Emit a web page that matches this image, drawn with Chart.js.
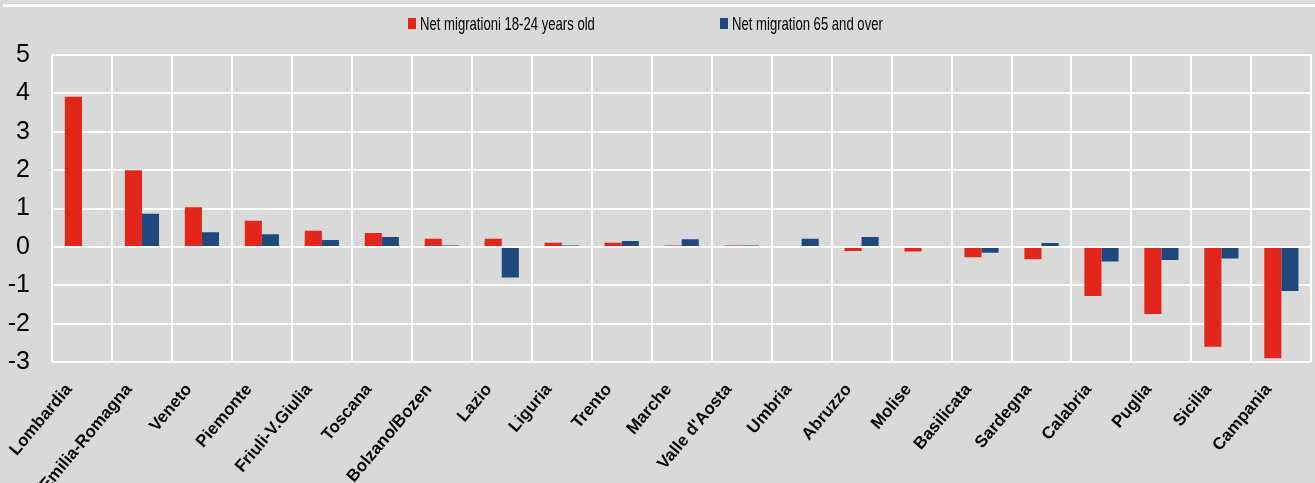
<!DOCTYPE html>
<html>
<head>
<meta charset="utf-8">
<script src="https://cdn.jsdelivr.net/npm/chart.js@4/dist/chart.umd.min.js"></script>
<style>
    html, body { margin: 0; padding: 0; background: #d9d9d9; }
    #wrap { position: relative; width: 1315px; height: 483px; }
    #topline { position: absolute; left: 3px; right: 0; top: 4px; height: 3px; background: #ffffff; }
    .legItem { position: absolute; top: 13px; height: 22px; white-space: nowrap;
        font-family: "Liberation Sans", Arial, sans-serif; font-size: 19px; color: #000; }
    .legItem .box { position: absolute; left: 0; top: 5px; width: 8px; height: 11px; }
    .legItem .txt { position: absolute; left: 12px; top: 0; line-height: 22px;
        transform: scaleX(0.69); transform-origin: 0 0; }
</style>
</head>
<body>
<div id="wrap">
    <div id="topline"></div>
    <div id="legend"></div>
    <canvas id="chartMig" width="1315" height="483"></canvas>
</div>
<script>
const regions = ['Lombardia', 'Emilia-Romagna', 'Veneto', 'Piemonte', 'Friuli-V.Giulia', 'Toscana',
    'Bolzano/Bozen', 'Lazio', 'Liguria', 'Trento', 'Marche', "Valle d'Aosta", 'Umbria', 'Abruzzo',
    'Molise', 'Basilicata', 'Sardegna', 'Calabria', 'Puglia', 'Sicilia', 'Campania'];
// null = no bar visible in the picture
const young = [3.91, 2.0, 1.03, 0.68, 0.42, 0.36, 0.21, 0.21, 0.11, 0.11, 0.02, 0.02, null, -0.11,
    -0.12, -0.27, -0.32, -1.28, -1.75, -2.6, -2.9];
const old = [null, 0.86, 0.38, 0.33, 0.18, 0.26, 0.01, -0.8, 0.01, 0.15, 0.2, 0.02, 0.21, 0.26,
    null, -0.15, 0.1, -0.38, -0.34, -0.3, -1.15];
const yTicks = [-3, -2, -1, 0, 1, 2, 3, 4, 5];
const seriesNames = ['Net migrationi 18-24 years old', 'Net migration 65 and over'];
const seriesColors = ['#e3261b', '#1f497d'];

const ctx = document.getElementById('chartMig').getContext('2d');
const chart = new Chart(ctx, {
    type: 'bar',
    data: {
        labels: regions,
        datasets: [
            { label: seriesNames[0], data: young, backgroundColor: seriesColors[0], borderWidth: 0 },
            { label: seriesNames[1], data: old, backgroundColor: seriesColors[1], borderWidth: 0 }
        ]
    },
    options: {
        responsive: false,
        animation: false,
        layout: { padding: { top: 55, right: 0, left: 0, bottom: 0 } },
        datasets: { bar: { categoryPercentage: 0.57, barPercentage: 1, minBarLength: 1.5 } },
        plugins: {
            tooltip: { enabled: false },
            legend: { display: false }
        },
        scales: {
            x: {
                offset: true,
                grid: { color: '#ffffff', lineWidth: 2, offset: true, drawTicks: false },
                border: { display: false },
                ticks: {
                    color: '#000',
                    minRotation: 50,
                    maxRotation: 50,
                    padding: 18,
                    labelOffset: -13,
                    autoSkip: false,
                    font: { family: '"Liberation Sans", Arial, sans-serif', size: 17, weight: 'bold' }
                },
                afterFit: scale => { scale.height = 121; }
            },
            y: {
                min: -3,
                max: 5,
                afterBuildTicks: scale => { scale.ticks = yTicks.map(v => ({ value: v })); },
                grid: { color: '#ffffff', lineWidth: 2, drawTicks: false },
                border: { display: false },
                ticks: {
                    color: '#000',
                    autoSkip: false,
                    padding: 22,
                    font: { family: '"Liberation Sans", Arial, sans-serif', size: 25 }
                },
                afterFit: scale => { scale.width = 52; }
            }
        }
    }
});

// legend as html, built from the series names
const legendLeft = [408, 720];
const legend = document.getElementById('legend');
seriesNames.forEach((name, i) => {
    const item = document.createElement('div');
    item.className = 'legItem';
    item.style.left = legendLeft[i] + 'px';
    item.innerHTML = `<span class="box" style="background:${seriesColors[i]}"></span><span class="txt">${name}</span>`;
    legend.appendChild(item);
});
</script>
</body>
</html>
